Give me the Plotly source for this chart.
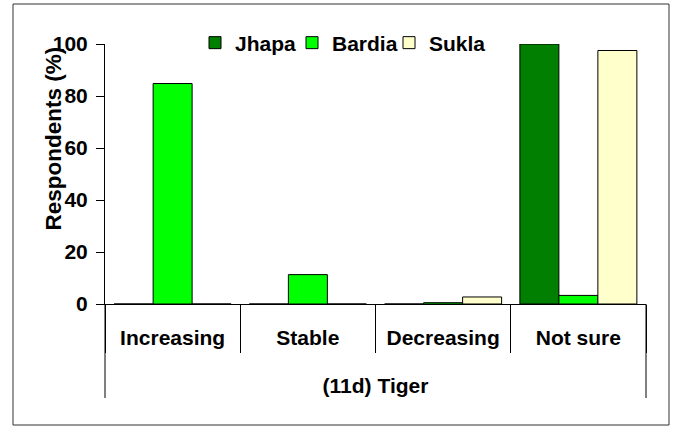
import plotly.graph_objects as go

categories = ["Increasing", "Stable", "Decreasing", "Not sure"]
group_label = "(11d) Tiger"
jhapa = [0, 0, 0, 100]
bardia = [84.8, 11.3, 0.5, 3.3]
sukla = [0, 0, 2.7, 97.5]
y_ticks = [0, 20, 40, 60, 80, 100]

FONT = "Liberation Sans, Arial, sans-serif"

# plot area in pixels
L, R, T, B = 105, 32, 44, 128
W, H = 678, 432
PW, PH = W - L - R, H - T - B


def px_x(p):
    return (p - L) / PW


def px_y(p):
    return (H - B - p) / PH


fig = go.Figure()
for name, vals, color in [("Jhapa", jhapa, "#007F00"),
                          ("Bardia", bardia, "#00FF00"),
                          ("Sukla", sukla, "#FFFFCC")]:
    fig.add_trace(go.Bar(x=categories, y=vals, name=name,
                         marker=dict(color=color, line=dict(color="black", width=1))))

fig.update_layout(
    width=W, height=H,
    margin=dict(l=L, r=R, t=T, b=B, autoexpand=False),
    paper_bgcolor="white", plot_bgcolor="white",
    barmode="group", bargap=0.135, bargroupgap=0,
    font=dict(family=FONT, size=21, color="black", weight="bold"),
    showlegend=True,
    legend=dict(orientation="h", x=px_x(195), xanchor="left", y=px_y(43), yanchor="middle",
                font=dict(family=FONT, size=21, weight="bold"),
                bgcolor="rgba(0,0,0,0)", itemwidth=30, traceorder="normal",
                entrywidth=52, entrywidthmode="pixels"),
    xaxis=dict(type="category", showline=True, linecolor="black", linewidth=1,
               ticks="outside", tickson="boundaries", ticklen=48, tickcolor="black",
               tickwidth=1, ticklabelstandoff=15,
               tickfont=dict(family=FONT, size=21, weight="bold"),
               title=dict(text=group_label, standoff=30,
                          font=dict(family=FONT, size=21, weight="bold")),
               showgrid=False, zeroline=False),
    yaxis=dict(range=[0, 100], tickvals=y_ticks, showline=True, linecolor="black",
               linewidth=1, ticks="outside", ticklen=8, tickcolor="black",
               ticklabelstandoff=4,
               showgrid=False, zeroline=False,
               tickfont=dict(family=FONT, size=21, weight="bold")),
    shapes=[dict(type="rect", xref="paper", yref="paper",
                 x0=px_x(13), x1=px_x(669), y0=px_y(425), y1=px_y(4),
                 line=dict(color="#333333", width=1), fillcolor="rgba(0,0,0,0)",
                 layer="below"),
            dict(type="line", xref="paper", yref="paper", x0=0, x1=0,
                 y0=0, y1=px_y(398), line=dict(color="black", width=1)),
            dict(type="line", xref="paper", yref="paper", x0=1, x1=1,
                 y0=0, y1=px_y(398), line=dict(color="black", width=1))],
    annotations=[dict(text="Respondents (%)", textangle=-90, xref="paper", yref="paper",
                      x=px_x(53), y=px_y(138.5), xanchor="center",
                      yanchor="middle", showarrow=False,
                      font=dict(family=FONT, size=22.5, weight="bold"))],
)

fig.write_html("out.html", config={"displayModeBar": False},
               post_script="document.body.style.margin='0';")
